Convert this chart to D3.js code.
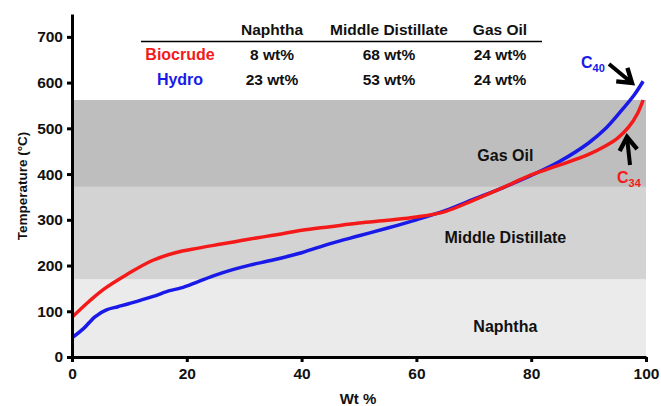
<!DOCTYPE html>
<html>
<head>
<meta charset="utf-8">
<script src="https://cdn.jsdelivr.net/npm/d3@7"></script>
<style>
  body { margin: 0; background: #fff; }
  text { font-family: "Liberation Sans", Arial, sans-serif; font-weight: bold; }
</style>
</head>
<body>
<div class="chart"></div>
<script>
// distillation curves, wt% vs temperature (°C)
const biocrudeX = [0, 3, 5.5, 9.5, 14, 18, 22, 26, 30, 35, 40, 45, 50, 55, 60, 65, 70, 75, 80, 85, 90, 93, 95, 97, 98.5, 99.5];
const biocrudeT = [87, 122, 148, 180, 211, 228, 238, 247, 256, 266, 277, 285, 293, 299, 306, 318, 343, 370, 398, 420, 443, 462, 478, 503, 532, 562];
const hydroX = [0, 2, 4, 6, 8, 10, 14, 17, 19, 22, 25, 28, 31, 35, 40, 45, 50, 55, 60, 65, 70, 75, 80, 85, 90, 93, 96, 98, 99.5];
const hydroT = [42, 62, 88, 103, 110, 117, 132, 145, 151, 165, 179, 191, 201, 212, 228, 248, 265, 282, 300, 320, 345, 370, 397, 428, 468, 500, 543, 574, 603];

const bandNames = ["Naphtha", "Middle Distillate", "Gas Oil"];
const bandLow = [0, 170, 372];
const bandHigh = [170, 372, 562];

const tableCols = ["Naphtha", "Middle Distillate", "Gas Oil"];
const tableRows = ["Biocrude", "Hydro"];
const biocrudeWt = ["8 wt%", "68 wt%", "24 wt%"];
const hydroWt = ["23 wt%", "53 wt%", "24 wt%"];

const xTicks = [0, 20, 40, 60, 80, 100];
const yTicks = [0, 100, 200, 300, 400, 500, 600, 700];

const W = 661, H = 406;
const M = { top: 14, right: 15, bottom: 49, left: 72 };
const RED = "#f51a1a", BLUE = "#1a1ae8";

const svg = d3.select(".chart").append("svg").attr("width", W).attr("height", H);

const x = d3.scaleLinear().domain([0, 100]).range([M.left, W - M.right]);
const y = d3.scaleLinear().domain([0, 750]).range([H - M.bottom, M.top]);

// shaded bands
const bandFill = ["#ebebeb", "#d3d3d3", "#bebebe"];
svg.selectAll(".band").data(bandNames).enter().append("rect")
  .attr("x", x(0)).attr("width", x(100) - x(0))
  .attr("y", (d, i) => y(bandHigh[i]))
  .attr("height", (d, i) => y(bandLow[i]) - y(bandHigh[i]))
  .attr("fill", (d, i) => bandFill[i]);

const bandLabelT = [68, 262, 442];
svg.selectAll(".bandlabel").data(bandNames).enter().append("text")
  .attr("x", x(75.5))
  .attr("y", (d, i) => y(bandLabelT[i]) + 6)
  .attr("text-anchor", "middle").attr("font-size", 16).attr("fill", "#111")
  .text(d => d);

// curves
const line = d3.line().x(d => x(d[0])).y(d => y(d[1])).curve(d3.curveCatmullRom.alpha(0.5));
svg.append("path").attr("d", line(d3.zip(hydroX, hydroT)))
  .attr("fill", "none").attr("stroke", BLUE).attr("stroke-width", 3.5);
svg.append("path").attr("d", line(d3.zip(biocrudeX, biocrudeT)))
  .attr("fill", "none").attr("stroke", RED).attr("stroke-width", 3.5);

// axes
const xAxis = svg.append("g").attr("transform", `translate(0,${y(0)})`)
  .call(d3.axisBottom(x).tickValues(xTicks).tickSize(5).tickSizeOuter(0).tickPadding(6));
const yAxis = svg.append("g").attr("transform", `translate(${x(0)},0)`)
  .call(d3.axisLeft(y).tickValues(yTicks).tickSize(5).tickSizeOuter(0).tickPadding(4));
[xAxis, yAxis].forEach(g => {
  g.select(".domain").attr("stroke", "#000").attr("stroke-width", 3);
  g.selectAll(".tick line").attr("stroke", "#000").attr("stroke-width", 3);
  g.selectAll(".tick text").attr("font-size", 15.5).attr("fill", "#111")
    .attr("font-family", "Liberation Sans, Arial, sans-serif").attr("font-weight", "bold");
});

svg.append("text").attr("x", 358).attr("y", 404)
  .attr("text-anchor", "middle").attr("font-size", 15).attr("fill", "#111").text("Wt %");
svg.append("text").attr("transform", `translate(27,186) rotate(-90)`)
  .attr("text-anchor", "middle").attr("font-size", 13.5).attr("fill", "#111").text("Temperature (°C)");

// table
const colX = [272, 389, 500];
const rowY = [60, 85];
svg.selectAll(".colhead").data(tableCols).enter().append("text")
  .attr("x", (d, i) => colX[i]).attr("y", 35)
  .attr("text-anchor", "middle").attr("font-size", 15.5).attr("fill", "#111").text(d => d);
svg.append("line").attr("x1", 141).attr("x2", 542).attr("y1", 41.5).attr("y2", 41.5)
  .attr("stroke", "#000").attr("stroke-width", 1.5);
svg.selectAll(".rowhead").data(tableRows).enter().append("text")
  .attr("x", 180).attr("y", (d, i) => rowY[i])
  .attr("text-anchor", "middle").attr("font-size", 16)
  .attr("fill", (d, i) => i === 0 ? RED : BLUE).text(d => d);
[biocrudeWt, hydroWt].forEach((row, r) => {
  svg.selectAll(".cell" + r).data(row).enter().append("text")
    .attr("x", (d, i) => colX[i]).attr("y", rowY[r])
    .attr("text-anchor", "middle").attr("font-size", 15.5).attr("fill", "#111").text(d => d);
});

// annotations
svg.append("defs").append("marker").attr("id", "head")
  .attr("viewBox", "0 0 10 10").attr("refX", 7).attr("refY", 5)
  .attr("markerWidth", 5.5).attr("markerHeight", 5.5).attr("orient", "auto")
  .append("path").attr("d", "M1,1 L7,5 L1,9").attr("fill", "none")
  .attr("stroke", "#000").attr("stroke-width", 2);

const c40 = svg.append("text").attr("x", 581).attr("y", 68).attr("font-size", 16).attr("fill", BLUE);
c40.append("tspan").text("C");
c40.append("tspan").attr("font-size", 11).attr("dy", 4).text("40");
svg.append("line").attr("x1", 609).attr("y1", 64).attr("x2", 632).attr("y2", 83)
  .attr("stroke", "#000").attr("stroke-width", 4).attr("marker-end", "url(#head)");

const c34 = svg.append("text").attr("x", 617).attr("y", 183).attr("font-size", 16).attr("fill", RED);
c34.append("tspan").text("C");
c34.append("tspan").attr("font-size", 11).attr("dy", 4).text("34");
svg.append("line").attr("x1", 630).attr("y1", 165).attr("x2", 627).attr("y2", 137)
  .attr("stroke", "#000").attr("stroke-width", 4).attr("marker-end", "url(#head)");
</script>
</body>
</html>
